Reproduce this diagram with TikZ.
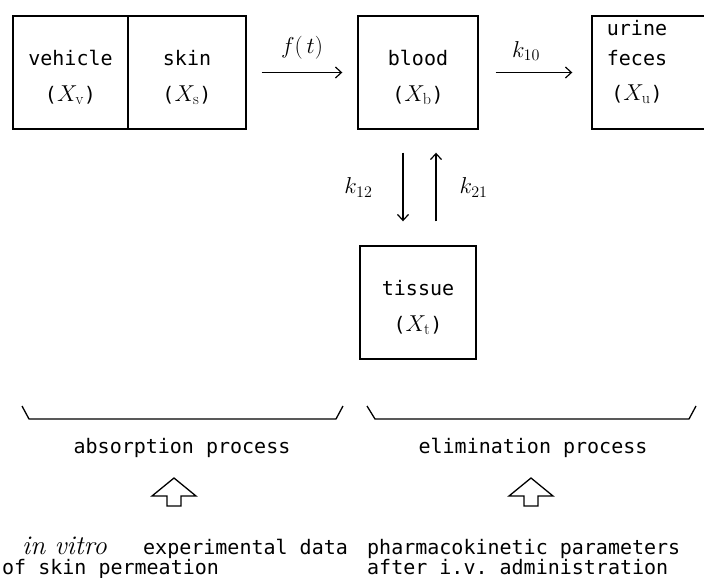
\RequirePackage{fix-cm}
\documentclass[tikz,border=0pt]{standalone}
\usepackage{fontspec}
\setmonofont{DejaVu Sans Mono}
\usetikzlibrary{arrows.meta}
\newcommand{\amount}[1]{({\fontsize{23}{24}\selectfont$X_\mathrm{#1}$})}
\newcommand{\toppad}{\rule{0pt}{25pt}}

\begin{document}
\begin{tikzpicture}[x=1pt, y=-1pt,
    box/.style={draw, line width=1.4pt, inner sep=0pt, align=center,
      font=\fontsize{20}{24}\ttfamily},
    txt/.style={inner sep=0pt, font=\fontsize{20}{24}\ttfamily},
    rate/.style={inner sep=0pt, font=\fontsize{23}{24}\selectfont}]
  \useasboundingbox (0,0) rectangle (704,578);
  \node[box, minimum width=115pt, minimum height=113pt] (vehicle) at (70.5,72.5) {\toppad vehicle\\[12pt]\amount{v}};
  \node[box, minimum width=118pt, minimum height=113pt] (skin) at (187,72.5) {\toppad skin\\[12pt]\amount{s}};
  \node[box, minimum width=120pt, minimum height=113pt] (blood) at (418,72.5) {\toppad blood\\[12pt]\amount{b}};
  \node[box, minimum width=120pt, minimum height=113pt] (urine) at (652,72.5) {};
  \node[txt, align=center, anchor=base] (urinetext) at (637,100.5) {urine\\[6pt]feces\\[11pt]\amount{u}};
  \node[box, minimum width=116pt, minimum height=113pt] (tissue) at (418,302.5) {\toppad tissue\\[12pt]\amount{t}};
  \begin{scope}[line width=1.2pt, -{Straight Barb[length=6pt,width=11pt]}]
    \draw[shorten <=15pt, shorten >=15pt] (skin) -- node[rate, above=13pt] {$f(\,t)$} (blood);
    \draw[shorten <=17pt, shorten >=19pt] (blood) -- node[rate, above=11pt, xshift=-9pt] {$k_{10}$} (urine);
    \draw[shorten <=23pt, shorten >=24pt] ([xshift=-15pt]blood.south) -- node[rate, left=30pt] {$k_{12}$} ([xshift=-15pt]tissue.north);
    \draw[shorten <=24pt, shorten >=23pt] ([xshift=18pt]tissue.north) -- node[rate, right=23pt] {$k_{21}$} ([xshift=18pt]blood.south);
  \end{scope}
  % braces
  \draw[line width=1.3pt] (22,406) -- (29,419) -- (336,419) -- (343,406);
  \draw[line width=1.3pt] (367,406) -- (375,419) -- (689,419) -- (696,406);
  \node[txt, anchor=base] (absorption) at (182,453.5) {absorption process};
  \node[txt, anchor=base] (elimination) at (533,453.5) {elimination process};
  \foreach \x in {174,531}
    \draw[line width=1.3pt] (\x,478) -- ++(22,18) -- ++(-15,0) -- ++(0,10)
      -- ++(-14,0) -- ++(0,-10) -- ++(-15,0) -- cycle;
  \node[txt, anchor=base west, align=left] (invitro) at (2,574)
    {\hspace*{20pt}\makebox[121pt][l]{\rmfamily\itshape\fontsize{27}{24}\selectfont in vitro}experimental data\\[-4pt]of skin permeation};
  \node[txt, anchor=base west, align=left] (pkparams) at (367,574)
    {pharmacokinetic parameters\\[-4pt]after i.v. administration};
\end{tikzpicture}
\end{document}
